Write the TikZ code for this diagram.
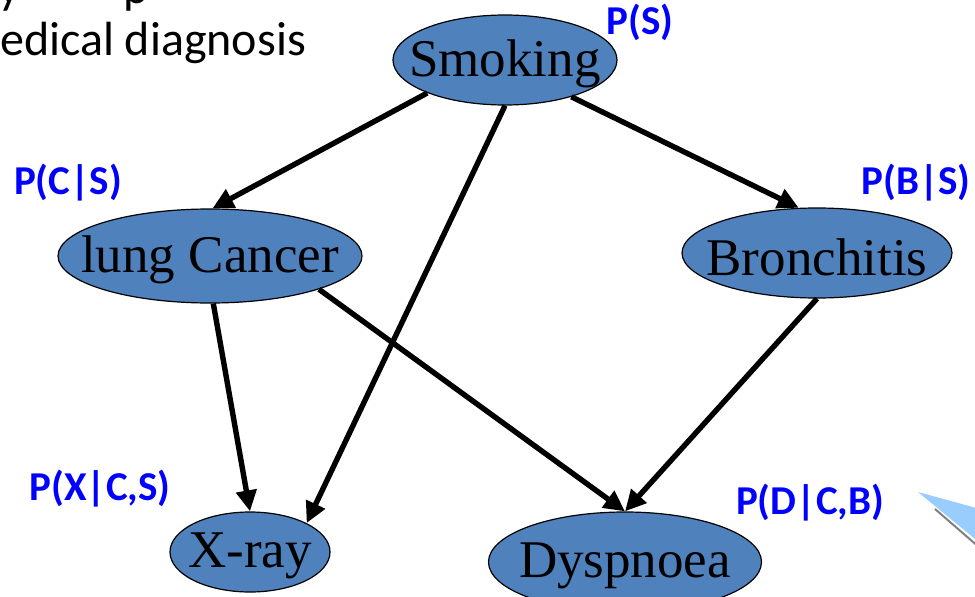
\documentclass[tikz,border=0pt]{standalone}
\usepackage{fontspec}
\setmainfont{Liberation Serif}
\newfontfamily\calfont{Carlito}
\usetikzlibrary{arrows.meta,shapes.geometric}
\definecolor{nodeblue}{RGB}{79,129,189}
\definecolor{cptblue}{RGB}{0,0,255}
\definecolor{callout}{RGB}{153,204,255}
\begin{document}
\begin{tikzpicture}[
		x=1pt,
		y=-1pt,
		line join=round,
		var/.style={ellipse, draw=black, line width=1.2pt, fill=nodeblue,
			inner sep=0pt, label={[font=\fontsize{53}{53}\selectfont, yshift=-4pt]center:#1}},
		cpt/.style={text=cptblue, font=\calfont\bfseries\fontsize{41}{41}\selectfont},
		slide/.style={anchor=base west, inner sep=0pt, font=\calfont\fontsize{48}{48}\selectfont},
		link/.style={line width=5.4pt, -{Triangle[length=21pt,width=20pt]}}
	]
	\clip (0,0) rectangle (975,597);

	% Slide text (cut off)
	\node[slide] (titley) at (-2,3) {y};
	\node[slide] (titlep) at (123,3) {p};
	\node[slide] (sub) at (0,55) {edical diagnosis};

	% Variables
	\node[var=Smoking, minimum width=224pt, minimum height=90pt] (smoking) at (505,60) {};
	\node[var=lung Cancer, minimum width=304pt, minimum height=94pt] (cancer) at (210,256) {};
	\node[var=Bronchitis, minimum width=270pt, minimum height=90pt] (bronch) at (817,253) {};
	\node[var=X-ray, minimum width=160pt, minimum height=80pt] (xray) at (250,552) {};
	\node[var=Dyspnoea, minimum width=273pt, minimum height=100pt] (dysp) at (625,562) {};

	% Edges
	\draw[link] (smoking.203) -- (cancer.87);
	\draw[link] (smoking.270) -- (xray.27);
	\draw[link] (smoking.331) -- (bronch.112);
	\draw[link] (cancer.274) -- (xray.90);
	\draw[link] (cancer.343) -- (dysp.90);
	\draw[link] (bronch.270) -- (dysp.90);

	% Conditional probabilities
	\node[cpt] (ps) at (640,22) {P(S)};
	\node[cpt] (pcs) at (68,183) {P(C|S)};
	\node[cpt] (pbs) at (916,183) {P(B|S)};
	\node[cpt] (pxcs) at (100,489) {P(X|C,S)};
	\node[cpt] (pdcb) at (810,503) {P(D|C,B)};

	% Callout pointer
	\draw[gray, line width=2pt] (935,509) -- (980,548);
	\fill[callout] (918,492) -- (980,509) -- (980,543) -- cycle;

\end{tikzpicture}
\end{document}
